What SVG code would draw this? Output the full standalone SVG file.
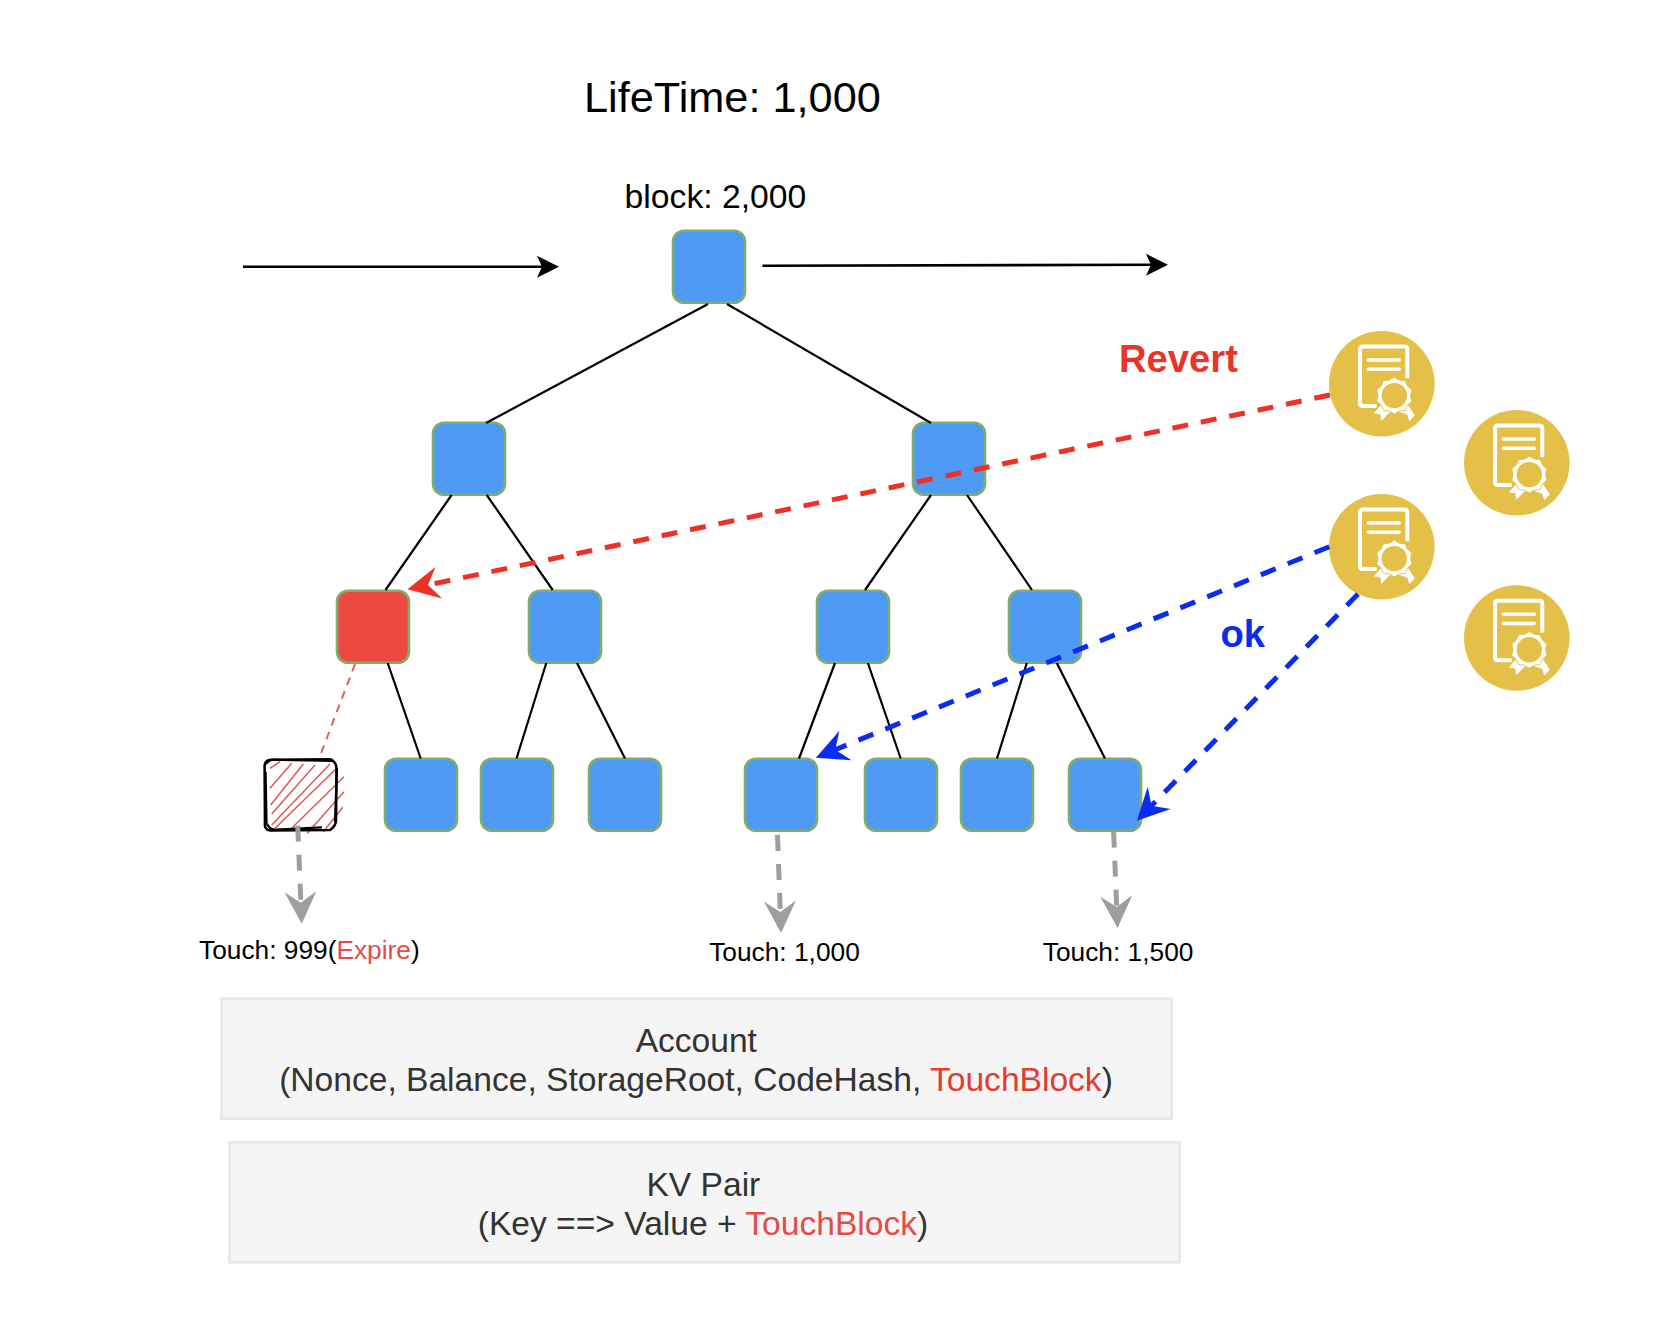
<svg xmlns="http://www.w3.org/2000/svg" width="1670" height="1322" viewBox="0 0 1670 1322">
<style>
text{font-family:"Liberation Sans",Arial,sans-serif}
.n{fill:#4f9af5;stroke:#82ab6e;stroke-width:2.6}
.t{stroke:#000;stroke-width:2.2;fill:none}
.d{fill:none;stroke-width:5;stroke-dasharray:16 13}
.box{fill:#f5f5f5;stroke:#e6e6e6;stroke-width:2.6}
.touch{font-size:26.3px;fill:#000}
.in{font-size:33.6px;fill:#333;text-anchor:middle}
.r{fill:#e53a32}
.e{fill:#e34c4a}
.hatch line{stroke:#dc5350;stroke-width:1.4}
</style>
<defs>
<marker id="ah" markerUnits="userSpaceOnUse" markerWidth="23" markerHeight="24" refX="5" refY="11.5" orient="auto"><path d="M22,11.5 L0,.5 L5,11.5 L0,22.5 Z" fill="#000"/></marker>
<marker id="ar" markerUnits="userSpaceOnUse" markerWidth="36" markerHeight="36" refX="12" refY="17" orient="auto"><path d="M33,17 L1,1 L12,17 L1,33 Z" fill="#ee3124"/></marker>
<marker id="ab" markerUnits="userSpaceOnUse" markerWidth="36" markerHeight="36" refX="12" refY="17" orient="auto"><path d="M33,17 L1,1 L12,17 L1,33 Z" fill="#0a2cf0"/></marker>
<marker id="ag" markerUnits="userSpaceOnUse" markerWidth="36" markerHeight="36" refX="12" refY="17" orient="auto"><path d="M33,17 L1,1 L12,17 L1,33 Z" fill="#9e9e9e"/></marker>
<g id="cert">
<circle r="52.8" fill="#e4c048"/>
<path d="M-5.2,22.2 H-18.8 Q-21.8,22.2 -21.8,19.2 V-34.2 Q-21.8,-37.2 -18.8,-37.2 H22.5 Q25.5,-37.2 25.5,-34.2 V-5.5" fill="none" stroke="#fff" stroke-width="4"/>
<path d="M-13.5,-23.8 H17.5 M-13.5,-14.5 H17.5" fill="none" stroke="#fff" stroke-width="3.4" stroke-linecap="round"/>
<path d="M-8,29.5 L1,19.5 L9.5,27 L-0.5,37 L-1.5,30.5 Z M16,27.5 L25,19.5 L33,31.5 L27.5,37.5 L25.5,31 Z" fill="#fff"/>
<polygon transform="translate(12.5,11.8) rotate(18)" points="18.4,0 15.4,5 14.9,10.8 9.5,13.1 5.7,17.5 0,16.2 -5.7,17.5 -9.5,13.1 -14.9,10.8 -15.4,5 -18.4,0 -15.4,-5 -14.9,-10.8 -9.5,-13.1 -5.7,-17.5 0,-16.2 5.7,-17.5 9.5,-13.1 14.9,-10.8 15.4,-5" fill="#fff" stroke="#e4c048" stroke-width=".8"/>
<circle cx="12.5" cy="11.8" r="12.7" fill="#e4c048"/>
</g>
</defs>

<g id="labels">
<text x="584" y="111.7" font-size="43.3px" fill="#000">LifeTime: 1,000</text>
<text x="624.6" y="208" font-size="33.7px" fill="#000">block: 2,000</text>
<text x="1119" y="372" font-size="38.2px" font-weight="bold" fill="#e8352a">Revert</text>
<text x="1220.5" y="647" font-size="38.2px" font-weight="bold" fill="#0a2cf0">ok</text>
<text class="touch" x="199" y="959.3">Touch: 999(<tspan class="e">Expire</tspan>)</text>
<text class="touch" x="709.2" y="961">Touch: 1,000</text>
<text class="touch" x="1042.8" y="961">Touch: 1,500</text>
</g>

<g id="account">
<rect class="box" x="221.5" y="998.7" width="950" height="120"/>
<text class="in" x="696.3" y="1052">Account</text>
<text class="in" x="696" y="1091">(Nonce, Balance, StorageRoot, CodeHash, <tspan class="r">TouchBlock</tspan>)</text>
</g>
<g id="kvpair">
<rect class="box" x="229.5" y="1142.3" width="950" height="120"/>
<text class="in" x="703.4" y="1196">KV Pair</text>
<text class="in" x="703" y="1235">(Key ==&gt; Value + <tspan class="e">TouchBlock</tspan>)</text>
</g>

<g id="nodes">
<g id="root"><rect class="n" x="673" y="230.7" width="72" height="72" rx="11"/></g>
<g id="n2l"><rect class="n" x="433" y="422.7" width="72" height="72" rx="11"/></g>
<g id="n2r"><rect class="n" x="913" y="422.7" width="72" height="72" rx="11"/></g>
<g id="n3a"><rect class="n" x="337" y="590.7" width="72" height="72" rx="11" style="fill:#ec4a40"/></g>
<g id="n3b"><rect class="n" x="529" y="590.7" width="72" height="72" rx="11"/></g>
<g id="n3c"><rect class="n" x="817" y="590.7" width="72" height="72" rx="11"/></g>
<g id="n3d"><rect class="n" x="1009" y="590.7" width="72" height="72" rx="11"/></g>
<g id="expired">
<g class="hatch">
<line x1="270" y1="768.3" x2="280" y2="761.7"/>
<line x1="270" y1="788.3" x2="291.7" y2="763.3"/>
<line x1="270.7" y1="805" x2="303.3" y2="764"/>
<line x1="271.7" y1="814" x2="315" y2="765"/>
<line x1="271.7" y1="825" x2="330" y2="764"/>
<line x1="275" y1="828.3" x2="336.7" y2="768.3"/>
<line x1="291.7" y1="828.3" x2="344" y2="776.7"/>
<line x1="307.3" y1="833.3" x2="344" y2="791.7"/>
<line x1="323.3" y1="831.7" x2="342.7" y2="807.3"/>
</g>
<path d="M271,759.8 L330,759.2 Q337,762 336.5,770 L336,820 Q336,826 330,830 L270,830.5 Q264,830 265,822 L264.6,766 Q265,760 271,759.8 Z" fill="none" stroke="#000" stroke-width="2.6"/>
<path d="M266,764 Q270,758 280,760 L333,761 M337,768 L335,822 M266,822 Q270,831 276,829.5 L322,827.4 M265.6,772 L266.5,822" fill="none" stroke="#000" stroke-width="2.2"/>
</g>
<g id="l2"><rect class="n" x="385" y="758.7" width="72" height="72" rx="11"/></g>
<g id="l3"><rect class="n" x="481" y="758.7" width="72" height="72" rx="11"/></g>
<g id="l4"><rect class="n" x="589" y="758.7" width="72" height="72" rx="11"/></g>
<g id="l5"><rect class="n" x="745" y="758.7" width="72" height="72" rx="11"/></g>
<g id="l6"><rect class="n" x="865" y="758.7" width="72" height="72" rx="11"/></g>
<g id="l7"><rect class="n" x="961" y="758.7" width="72" height="72" rx="11"/></g>
<g id="l8"><rect class="n" x="1069" y="758.7" width="72" height="72" rx="11"/></g>
<g id="cert1"><use href="#cert" x="1381.8" y="383.8"/></g>
<g id="cert2"><use href="#cert" x="1516.8" y="462.8"/></g>
<g id="cert3"><use href="#cert" x="1381.8" y="546.8"/></g>
<g id="cert4"><use href="#cert" x="1516.8" y="638"/></g>
</g>

<g id="connectors">
<path d="M243,266.7 H542" fill="none" stroke="#000" stroke-width="2.6" marker-end="url(#ah)"/>
<path d="M762.5,265.7 L1151,264.8" fill="none" stroke="#000" stroke-width="2.6" marker-end="url(#ah)"/>
<path class="t" d="M708,304 L486,423 M727,304 L931,423 M451.6,495 L385.5,590 M486.7,495 L552.7,590 M931,495 L865,590 M967,495 L1032,590 M387.7,663 L420.7,758.5 M546.3,663 L516.5,758.5 M577,663 L625,758.5 M835,663 L799,758.5 M867.9,663 L900.7,758.5 M1026.8,663 L997,758.5 M1056.8,663 L1105,758.5"/>
<path d="M355,664 L319,758.7" fill="none" stroke="#e15f5c" stroke-width="2" stroke-dasharray="8 6.5"/>
<path class="d" stroke="#ee3124" d="M1330,395 L428,585" marker-end="url(#ar)"/>
<path class="d" stroke="#0a2cf0" d="M1329.3,546.7 L835.3,749.7" marker-end="url(#ab)"/>
<path class="d" stroke="#0a2cf0" d="M1358,594 L1151.5,805.7" marker-end="url(#ab)"/>
<path class="d" stroke="#9e9e9e" d="M297.7,825.7 L300.9,902.7" marker-end="url(#ag)"/>
<path class="d" stroke="#9e9e9e" d="M777.5,835 L780.3,912" marker-end="url(#ag)"/>
<path class="d" stroke="#9e9e9e" d="M1113.6,831.7 L1116.7,907" marker-end="url(#ag)"/>
</g>
</svg>
